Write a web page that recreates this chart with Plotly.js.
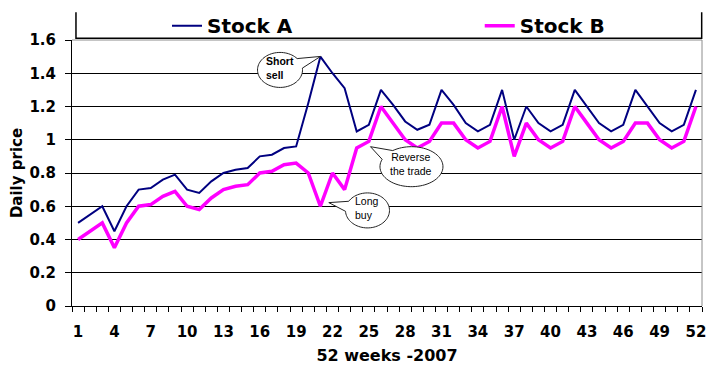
<!DOCTYPE html>
<html>
<head>
<meta charset="utf-8">
<script src="https://cdn.plot.ly/plotly-3.0.1.min.js"></script>
<style>html,body{margin:0;padding:0;background:#fff;}#chart{width:723px;height:373px;}</style>
</head>
<body>
<div id="chart"></div>
<script>
// ---- data ----
const weeks = [1,2,3,4,5,6,7,8,9,10,11,12,13,14,15,16,17,18,19,20,21,22,23,24,25,26,
               27,28,29,30,31,32,33,34,35,36,37,38,39,40,41,42,43,44,45,46,47,48,49,50,51,52];
const stockA = [0.50,0.55,0.60,0.45,0.60,0.70,0.71,0.76,0.79,0.70,
                0.68,0.75,0.80,0.82,0.83,0.90,0.91,0.95,0.96,1.22,
                1.50,1.40,1.31,1.05,1.09,1.30,1.21,1.11,1.06,1.09,
                1.30,1.21,1.10,1.05,1.09,1.30,1.00,1.20,1.10,1.05,
                1.09,1.30,1.20,1.10,1.05,1.09,1.30,1.20,1.10,1.05,
                1.09,1.30];
const stockB = [0.40,0.45,0.50,0.35,0.50,0.60,0.61,0.66,0.69,0.60,
                0.58,0.65,0.70,0.72,0.73,0.80,0.81,0.85,0.86,0.80,
                0.60,0.80,0.70,0.95,0.99,1.20,1.10,1.00,0.95,0.99,
                1.10,1.10,1.00,0.95,0.99,1.20,0.90,1.10,1.00,0.95,
                0.99,1.20,1.10,1.00,0.95,0.99,1.10,1.10,1.00,0.95,
                0.99,1.20];
const xTickVals = [1,4,7,10,13,16,19,22,25,28,31,34,37,40,43,46,49,52];
const xTickText = ['1','4','7','10','13','16','19','22','25','28','31','34','37','40','43','46','49','52'];
const seriesNames = ['Stock A','Stock B'];
const calloutTexts = ['Short<br>sell','Long<br>buy','Reverse<br>the trade'];

// ---- speech bubble path (pixels relative to anchor, y up) ----
function bubble(rx, ry, tx, ty, gap) {
  const th = Math.atan2(ty / ry, tx / rx);
  const n = 72;
  const pts = [];
  for (let i = 0; i <= n; i++) {
    const a = th + gap + (2 * Math.PI - 2 * gap) * i / n;
    pts.push((rx * Math.cos(a)).toFixed(2) + ',' + (ry * Math.sin(a)).toFixed(2));
  }
  return 'M' + pts.join(' L') + ' L' + tx + ',' + ty + ' Z';
}
function bubbleShape(cx, cy, rx, ry, tx, ty, gap) {
  return {type:'path', xref:'x', yref:'y', xsizemode:'pixel', ysizemode:'pixel',
          xanchor:cx, yanchor:cy, path:bubble(rx, ry, tx, ty, gap),
          fillcolor:'white', line:{color:'#222', width:1}, layer:'above'};
}

const callouts = [
  {cx:17.67, cy:1.420, rx:22.5, ry:17.5, tx:40.5, ty:13.5, gap:0.30, bold:true, dy:2},
  {cx:24.89, cy:0.575, rx:22,   ry:17.5, tx:-38.7, ty:7.8, gap:0.30, bold:false, dy:2},
  {cx:28.52, cy:0.838, rx:31.5, ry:20,   tx:-41, ty:20,   gap:0.28, bold:false, dy:3}
];

const shapes = callouts.map(c => bubbleShape(c.cx, c.cy, c.rx, c.ry, c.tx, c.ty, c.gap));
// legend box (open top)
shapes.push({type:'path', xref:'paper', yref:'paper',
  path:'M0.0063,1.104 L0.0063,1.0064 L0.9995,1.0064 L0.9995,1.104',
  line:{color:'black', width:1.5}, layer:'above'});
// grey top/right frame
shapes.push({type:'path', xref:'paper', yref:'paper',
  path:'M0,1 L1,1 L1,0', line:{color:'#8c8c8c', width:1}, layer:'above'});

const annotations = callouts.map((c, i) => ({
  x:c.cx, y:c.cy, xref:'x', yref:'y', text:calloutTexts[i], showarrow:false,
  align: i === 2 ? 'center' : 'left', yshift:c.dy,
  font:{family:'Liberation Sans, Arial, sans-serif', size:10.5, color:'black', weight: c.bold ? 'bold' : 'normal'}
}));

const traces = [
  {x:weeks, y:stockA, name:seriesNames[0], type:'scatter', mode:'lines',
   line:{color:'#000080', width:2}, legend:'legend'},
  {x:weeks, y:stockB, name:seriesNames[1], type:'scatter', mode:'lines',
   line:{color:'#FF00FF', width:3.5}, legend:'legend2'}
];

const boldFont = (s) => ({family:'DejaVu Sans, sans-serif', size:s, color:'black', weight:'bold'});
const legendBase = {orientation:'h', y:1.054, xanchor:'left', yanchor:'middle',
                    font:boldFont(20), bgcolor:'rgba(0,0,0,0)', borderwidth:0};

const layout = {
  width:723, height:373,
  margin:{l:72, r:21, t:40, b:67, pad:0, autoexpand:false},
  paper_bgcolor:'white', plot_bgcolor:'white',
  showlegend:true,
  legend:Object.assign({}, legendBase, {x:0.1508}),
  legend2:Object.assign({}, legendBase, {x:0.6472}),
  xaxis:{range:[0.5,52.5], tickmode:'array', tickvals:xTickVals, ticktext:xTickText,
         ticks:'', showgrid:false, zeroline:false, showline:true, linecolor:'black', linewidth:1,
         minor:{ticks:'outside', tick0:0.5, dtick:1, ticklen:5, tickcolor:'black', tickwidth:1, showgrid:false},
         tickfont:boldFont(15), ticklabelstandoff:12,
         title:{text:'52 weeks -2007', font:boldFont(16), standoff:9}},
  yaxis:{range:[0,1.6], tickmode:'linear', tick0:0, dtick:0.2, ticks:'outside', ticklen:6,
         tickcolor:'black', tickwidth:1, showgrid:true, gridcolor:'black', gridwidth:1,
         showline:true, linecolor:'black', linewidth:1, zeroline:false,
         tickfont:boldFont(15), ticklabelstandoff:6,
         title:{text:'Daily price', font:boldFont(15), standoff:3}},
  shapes:shapes,
  annotations:annotations
};

Plotly.newPlot('chart', traces, layout, {displayModeBar:false, staticPlot:true});
</script>
</body>
</html>
